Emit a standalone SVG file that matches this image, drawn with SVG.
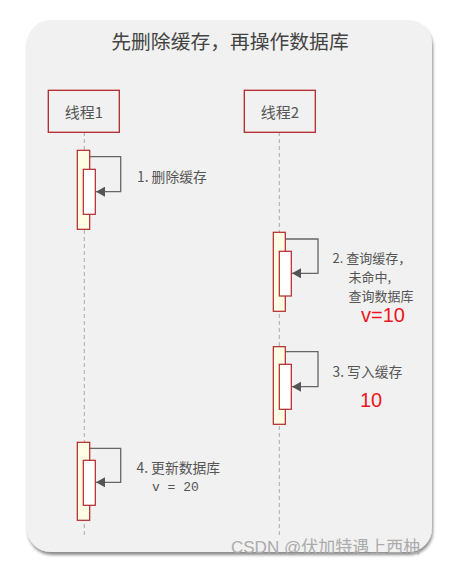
<svg xmlns="http://www.w3.org/2000/svg" width="456" height="565" viewBox="0 0 456 565">
<defs>
<filter id="sh" x="-10%" y="-10%" width="120%" height="120%">
<feDropShadow dx="1" dy="3" stdDeviation="1.6" flood-color="#000" flood-opacity="0.45"/>
</filter>
<marker id="ah" markerWidth="10" markerHeight="10" refX="9" refY="5" orient="auto" markerUnits="userSpaceOnUse">
<path d="M0,0 L9,5 L0,10 z" fill="#555"/>
</marker>
<style>
.t{font-family:"Noto Sans CJK SC","Liberation Sans",sans-serif;fill:#555;}
.lab{font-size:13.8px;}
.lab2{font-size:13px;}
.box{fill:none;stroke:#b3262a;stroke-width:1.3;}
.life{stroke:#aaa;stroke-width:1;stroke-dasharray:4,3;fill:none;}
.act{fill:#fffde4;stroke:#b3262a;stroke-width:1.2;}
.inn{fill:#fff;stroke:#b3262a;stroke-width:1.2;}
.loop{fill:none;stroke:#666;stroke-width:1.3;}
.red{font-family:"Liberation Sans","Noto Sans CJK SC",sans-serif;fill:#f0141e;font-size:20px;}
</style>
</defs>
<rect x="0" y="0" width="456" height="565" fill="#fff"/>
<rect x="27" y="20" width="405" height="532" rx="24" fill="#f1f1f1" filter="url(#sh)"/>
<text class="t" x="230" y="49" font-size="19.8" text-anchor="middle" style="fill:#444">先删除缓存，再操作数据库</text>

<g id="connectors">
<path class="life" d="M84.3,132 V535"/>
<path class="life" d="M279.3,132 V535"/>
<path class="loop" d="M89.7,156.7 H120.7 V191.7 H96" marker-end="url(#ah)"/>
<path class="loop" d="M285.3,239 H318 V273.3 H292" marker-end="url(#ah)"/>
<path class="loop" d="M285.3,351.7 H318 V386.7 H292" marker-end="url(#ah)"/>
<path class="loop" d="M89.7,448.3 H120.7 V482.3 H96" marker-end="url(#ah)"/>
</g>

<g id="thread1">
<rect class="box" x="48.3" y="90.3" width="71" height="42"/>
<text class="t" x="84" y="118" font-size="15" text-anchor="middle">线程1</text>
</g>
<g id="thread2">
<rect class="box" x="244.3" y="90.3" width="71" height="42"/>
<text class="t" x="280" y="118" font-size="15" text-anchor="middle">线程2</text>
</g>

<g id="step1">
<rect class="act" x="77.3" y="150.3" width="12.4" height="79"/>
<rect class="inn" x="83.3" y="169.3" width="12" height="45"/>
<text class="t lab" x="137" y="182">1. 删除缓存</text>
</g>
<g id="step2">
<rect class="act" x="273.3" y="232.3" width="12" height="79"/>
<rect class="inn" x="279.3" y="251.3" width="12" height="44.7"/>
<text class="t lab2" x="332.5" y="263">2. 查询缓存，</text>
<text class="t lab2" x="348.5" y="282">未命中,</text>
<text class="t lab2" x="348.5" y="301">查询数据库</text>
<text class="red" x="361" y="322">v=10</text>
</g>
<g id="step3">
<rect class="act" x="273.3" y="346.7" width="12" height="77.6"/>
<rect class="inn" x="279.3" y="364.3" width="12" height="45"/>
<text class="t lab" x="332.5" y="377">3. 写入缓存</text>
<text class="red" x="360" y="407">10</text>
</g>
<g id="step4">
<rect class="act" x="77.3" y="442.3" width="12.4" height="78"/>
<rect class="inn" x="83.3" y="460.3" width="12" height="45"/>
<text class="t lab" x="136.5" y="473">4. 更新数据库</text>
<text x="152" y="491" font-family="Liberation Mono, monospace" font-size="13" fill="#555">v = 20</text>
</g>

<text x="231" y="553" font-family="Liberation Sans,Noto Sans CJK SC,sans-serif" font-size="17" fill="#ababab">CSDN @伏加特遇上西柚</text>
</svg>
